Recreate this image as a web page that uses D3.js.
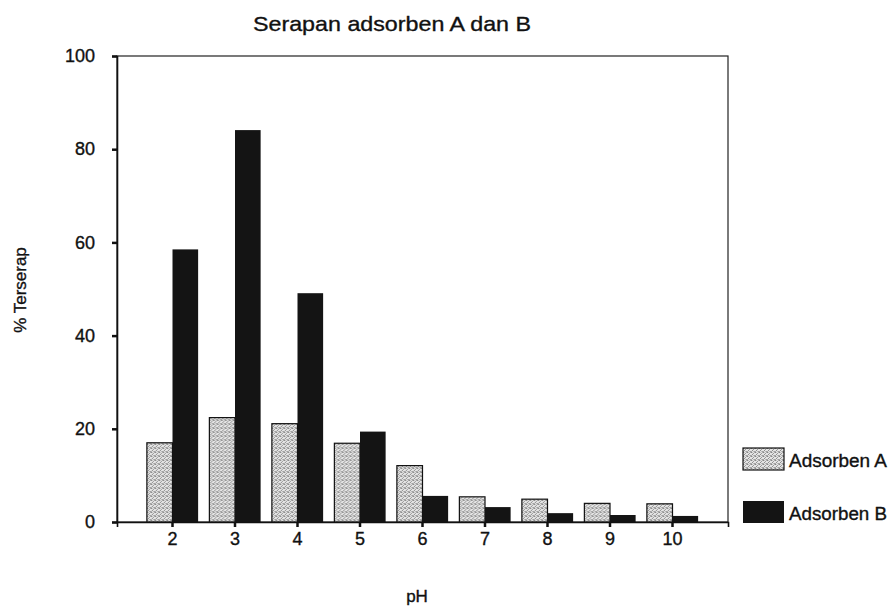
<!DOCTYPE html>
<html>
<head>
<meta charset="utf-8">
<script src="https://cdn.jsdelivr.net/npm/d3@7"></script>
<style>
  html, body { margin: 0; padding: 0; background: #fff; }
  svg { display: block; }
  text { font-family: "Liberation Sans", Arial, sans-serif; fill: #111; stroke: #111; stroke-width: 0.35px; }
</style>
</head>
<body>
<svg id="chart" width="892" height="607"></svg>
<script>
// ---- data ----
const categories = ["2", "3", "4", "5", "6", "7", "8", "9", "10"];
const seriesNames = ["Adsorben A", "Adsorben B"];
const adsorbenA = [17.0, 22.4, 21.1, 16.9, 12.1, 5.4, 4.9, 4.0, 3.9];
const adsorbenB = [58.5, 84.1, 49.1, 19.4, 5.6, 3.2, 1.9, 1.5, 1.3];
const yTicks = [0, 20, 40, 60, 80, 100];
const titleText = "Serapan adsorben A dan B";
const xLabel = "pH";
const yLabel = "% Terserap";

const rows = categories.map((c, i) => ({ cat: c, values: [adsorbenA[i], adsorbenB[i]] }));

// ---- layout ----
const svg = d3.select("#chart");
const plot = { left: 117, right: 728, top: 56, bottom: 522 };

const defs = svg.append("defs");
const pat = defs.append("pattern")
  .attr("id", "stipple").attr("patternUnits", "userSpaceOnUse")
  .attr("width", 4).attr("height", 4);
pat.append("rect").attr("width", 4).attr("height", 4).attr("fill", "#e4e4e4");
[[0,0,"#858585"],[2,1,"#9a9a9a"],[1,2,"#8c8c8c"],[3,3,"#a0a0a0"],[3,0,"#b0b0b0"],[0,3,"#a8a8a8"],[2,3,"#bdbdbd"],[1,0,"#c4c4c4"]]
  .forEach(p => pat.append("rect").attr("x", p[0]).attr("y", p[1]).attr("width", 1).attr("height", 1).attr("fill", p[2]));

const fills = ["url(#stipple)", "#141414"];

const x = d3.scaleBand().domain(categories)
  .range([plot.left, plot.right]).paddingInner(0.18).paddingOuter(0.478);
const xSub = d3.scaleBand().domain([0, 1]).range([0, x.bandwidth()]).padding(0);
const y = d3.scaleLinear().domain([0, 100]).range([plot.bottom, plot.top]);

// frame
svg.append("rect")
  .attr("x", plot.left).attr("y", plot.top)
  .attr("width", plot.right - plot.left).attr("height", plot.bottom - plot.top)
  .attr("fill", "none").attr("stroke", "#222").attr("stroke-width", 1.2);

// bars
const g = svg.append("g");
const groups = g.selectAll("g.grp").data(rows).join("g")
  .attr("class", "grp")
  .attr("transform", d => `translate(${x(d.cat)},0)`);
groups.selectAll("rect").data(d => d.values.map((v, k) => ({ v, k }))).join("rect")
  .attr("x", d => xSub(d.k))
  .attr("y", d => y(d.v))
  .attr("width", xSub.bandwidth())
  .attr("height", d => y(0) - y(d.v))
  .attr("fill", d => fills[d.k])
  .attr("stroke", d => d.k === 0 ? "#111" : "none")
  .attr("stroke-width", 1.2);

// axes
const yAxis = d3.axisLeft(y).tickValues(yTicks).tickSize(5).tickPadding(17).tickFormat(d3.format("d"));
const yg = svg.append("g").attr("transform", `translate(${plot.left},0)`).call(yAxis);
const xAxis = d3.axisBottom(x).tickSize(5).tickPadding(5);
const xg = svg.append("g").attr("transform", `translate(0,${plot.bottom})`).call(xAxis);
[yg, xg].forEach(a => {
  a.select(".domain").attr("stroke", "#111").attr("stroke-width", 1.6);
  a.selectAll(".tick line").attr("stroke", "#111").attr("stroke-width", 2.5);
  a.selectAll(".tick text").attr("font-size", 18).attr("fill", "#111")
    .style("font-family", "'Liberation Sans', Arial, sans-serif");
});

// title
svg.append("text").attr("x", 253).attr("y", 31)
  .attr("font-size", 21).attr("textLength", 278).attr("lengthAdjust", "spacingAndGlyphs")
  .text(titleText);

// axis labels
svg.append("text").attr("x", 417).attr("y", 602).attr("text-anchor", "middle")
  .attr("font-size", 17).text(xLabel);
svg.append("text").attr("transform", "translate(26,290) rotate(-90)")
  .attr("text-anchor", "middle").attr("font-size", 17).text(yLabel);

// legend
const legY = [448, 501];
const leg = svg.append("g").selectAll("g").data(seriesNames).join("g")
  .attr("transform", (d, i) => `translate(743,${legY[i]})`);
leg.append("rect").attr("width", 41).attr("height", 22)
  .attr("fill", (d, i) => fills[i])
  .attr("stroke", (d, i) => i === 0 ? "#111" : "none")
  .attr("stroke-width", 1.2);
leg.append("text").attr("x", 46).attr("y", 19).attr("font-size", 18)
  .attr("textLength", 98).attr("lengthAdjust", "spacingAndGlyphs")
  .text(d => d);
</script>
</body>
</html>
